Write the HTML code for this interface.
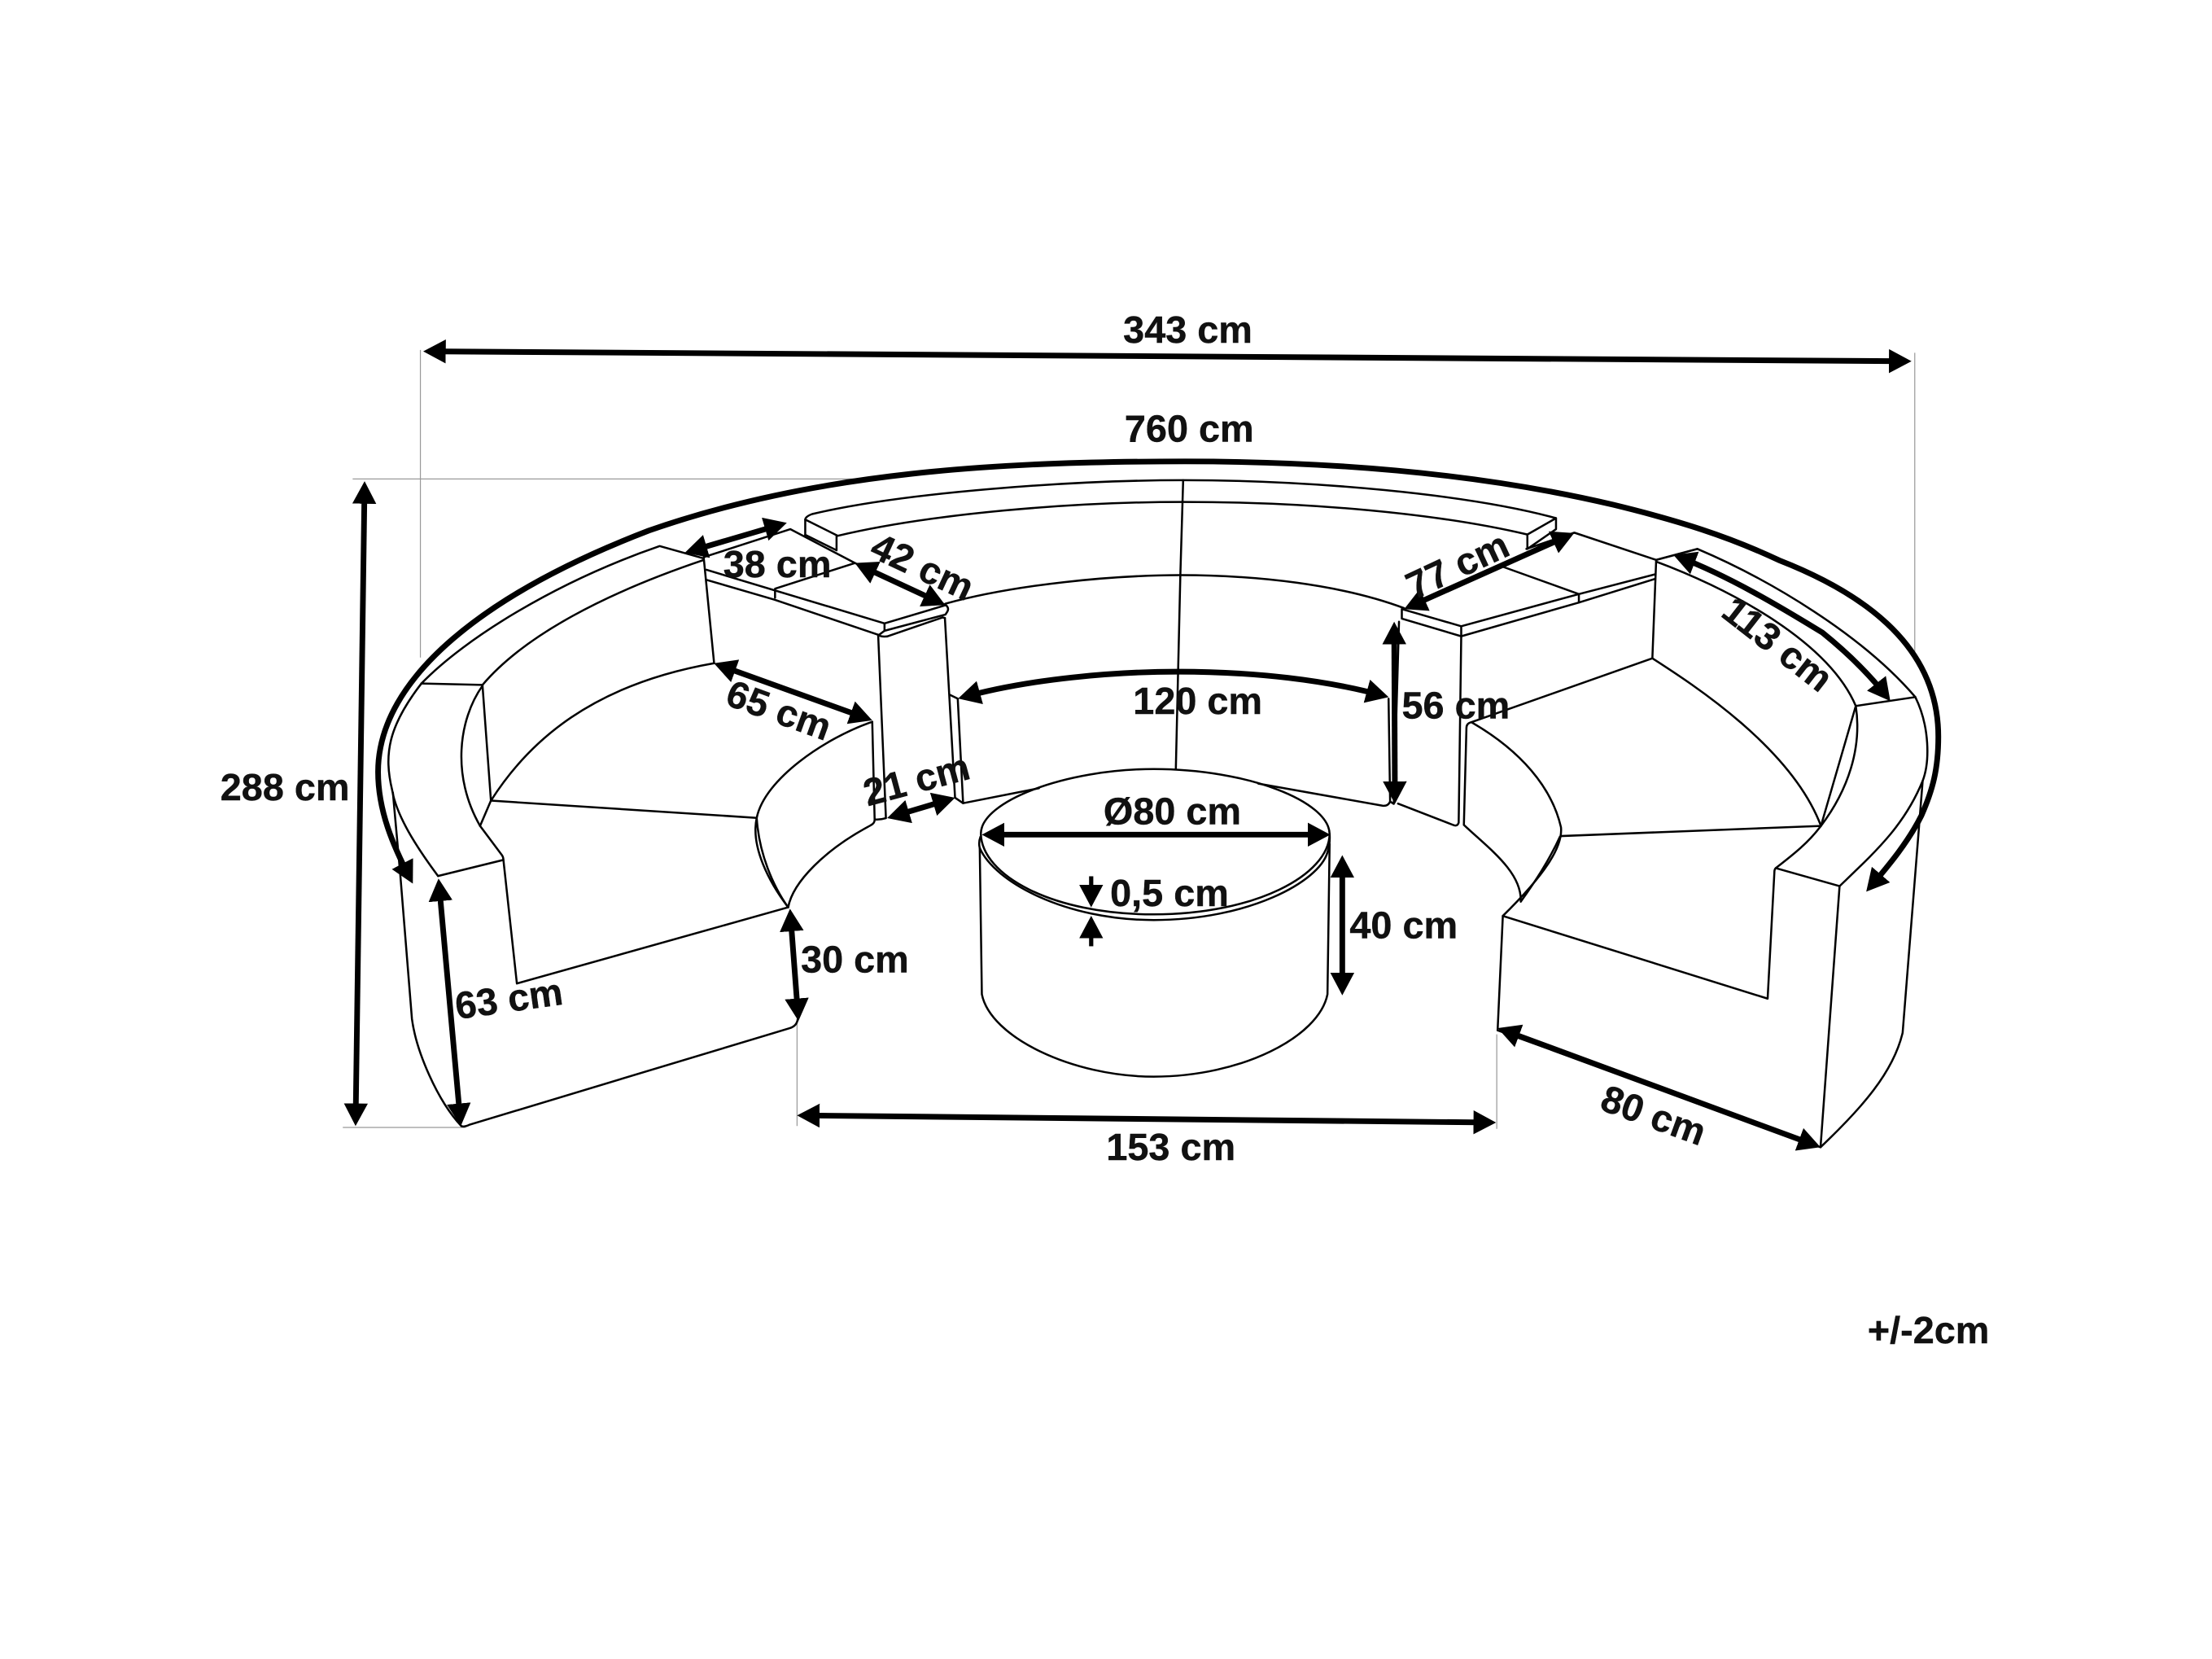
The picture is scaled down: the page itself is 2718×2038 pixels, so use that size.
<!DOCTYPE html>
<html><head><meta charset="utf-8"><style>
html,body{margin:0;padding:0;background:#fff}
svg{display:block}
text{font-family:"Liberation Sans",sans-serif;font-weight:700;font-size:27px;fill:#111;stroke:#111;stroke-width:.25;text-anchor:middle}
.o{fill:none;stroke:#000;stroke-width:1.45;stroke-linejoin:round;stroke-linecap:round}
.g{fill:none;stroke:#999;stroke-width:.7}
.a{fill:none;stroke:#000;stroke-width:4;marker-start:url(#h);marker-end:url(#h)}
.s{stroke-width:3;marker-start:none;marker-end:url(#h)}
</style></head><body>
<svg width="2718" height="2038" viewBox="0 0 1568 1175.7" xmlns="http://www.w3.org/2000/svg">
<defs><marker id="h" markerUnits="userSpaceOnUse" markerWidth="17" markerHeight="17" refX="12" refY="8.5" orient="auto-start-reverse" viewBox="0 0 17 17"><path d="M0 0L16 8.5L0 17z" fill="#000"/></marker></defs>

<path class="g" d="M298 248V466M250 339.4H618M1357.3 250V467M243 799H330M565 725V798M1061 733V800"/>

<!-- left section -->
<path class="o" d="M310.5 620.8C295 600 281 578 278 560C272 535 275 515 298.7 484.4C330 452 395 412 467.6 387L499 395.8"/>
<path class="o" d="M298.7 484.4L342 485.4C372 450 430 420 499 396.8L506.2 470"/>
<path class="o" d="M348 567.4C375 525 420 485 506.2 470"/>
<path class="o" d="M342 485.4L348 567.4L536.4 579.6"/>
<path class="o" d="M342 486C325 510 320 550 340.3 585.3L355.8 606Q356.8 607.5 356.8 609L366.4 697L558.7 643"/>
<path class="o" d="M340.3 585.3L348 567.4"/>
<path class="o" d="M310.5 620.8L356.8 609.4"/>
<path class="o" d="M278.5 561.6L283.7 619.3L292 722C295 745 310 780 327 798Q329 799 333 797L560 728.6Q565 727 565.5 722"/>
<path class="o" d="M618.3 511.5C585 523 542 552 536.4 579.6C532 600 545 625 558.7 643"/>
<path class="o" d="M536.4 579.6C538 605 548 628 558.7 643C562 625 585 602 617 585Q620 583.5 620 581L618.3 511.5"/>

<!-- left end table -->
<path class="o" d="M499 394.8L560.2 375L606 399L670.5 428.8L627 441.8L500.8 403.8"/>
<path class="o" d="M606 399L549.4 417.2V423.6"/>
<path class="o" d="M627 441.8V447L623 450L549 425L501 411"/>
<path class="o" d="M670.5 428.8Q673 431 671.5 433.5L670.2 435.5L627 447M628.9 451L668.3 437.5L669.8 438M622.5 450Q625 451.5 628.9 451"/>
<path class="o" d="M622.5 450L628 579.8Q624 581 620.2 580.7"/>
<path class="o" d="M669.8 438L677 565.3L682.7 569.2L678.9 495.1L673.1 492.3"/>
<path class="o" d="M682.7 569.2L736.5 558.6"/>
<path class="o" d="M670.2 427.8C720 414 790 407.6 836.7 407.6C890 407.6 950 414 995.3 431"/>

<!-- upper cushion -->
<path class="o" d="M570.8 379V368.2Q571 366 575.7 364.3C640 349 760 340.3 838.7 340.3C930 340.3 1040 350 1103 367.2V375L1082.7 389V378.8L1103 367.2"/>
<path class="o" d="M570.8 368.2L593.9 379.7C660 364 760 355.7 838.7 355.7C930 355.7 1020 364 1082.7 378.8"/>
<path class="o" d="M570.8 379L593 390V379.7"/>
<path class="o" d="M838.7 340.3L836.7 407.6L833.5 545"/>

<!-- right end table -->
<path class="o" d="M1082 389L1116 377.5L1174 396.8L1203.2 389"/>
<path class="o" d="M1065.7 401.8L1119.2 421L1035.8 443.8L993.7 431.6V438.4L1035.8 450.9L1119.2 427L1173.3 410.2"/>
<path class="o" d="M1119.2 421L1173.3 407M1119.2 421V427"/>
<path class="o" d="M1035.8 443.8V450.9L1034 583Q1033 586 1030 584.6L991 569.5"/>
<path class="o" d="M991.7 440.6L988 569.7L985.4 568L984.3 495.2M985.4 568Q984 571.5 980 571L892 555.3"/>

<!-- right section -->
<path class="o" d="M1174 396.8L1171.3 466.5L1043 511.8Q1039.5 512.5 1039.5 516L1037.7 584"/>
<path class="o" d="M1043 511.8C1078 532 1100 558 1106.5 586.2C1108 600 1095 620 1065.3 649.1L1061.6 730.2"/>
<path class="o" d="M1105.8 592.9C1098 610 1088 625 1078 639C1079 618 1055 601 1037.7 584.6"/>
<path class="o" d="M1106.4 592.5L1290.8 585.3L1315.5 500.3L1357.7 494"/>
<path class="o" d="M1171.3 466.5C1200 485 1270 530 1290.8 585.3"/>
<path class="o" d="M1174 398C1220 415 1295 452 1315.5 500.3"/>
<path class="o" d="M1174 396.8L1203.2 389C1255 411 1320 450 1357.7 494C1368 515 1368 540 1362.9 553.4C1350 585 1330 603 1304 628L1258.8 615.2"/>
<path class="o" d="M1315.5 500.3C1320 530 1310 560 1290.8 585.3C1282 597 1272 605 1258.8 615.2Q1257.8 616 1257.8 618L1253 707.7L1065.3 649.1"/>
<path class="o" d="M1304 628L1290.5 813C1320 785 1342 760 1348.7 731.9L1362.9 553.4"/>
<path class="o" d="M1061.6 730.2L1290.5 813"/>

<!-- table -->
<path class="o" d="M695.3 591C695 568 755 545 817.8 545C885 545 942 568 942.5 591C942 620 890 648 817.8 648C745 648 696 620 695.3 591Z"/>
<path class="o" d="M695 593Q693.5 597 694.5 601C705 625 755 652 817.8 652C885 652 935 625 941 604Q943 598 942.5 591"/>
<path class="o" d="M694.5 601L696 704.6C702 735 760 763 817.8 763C880 763 935 735 941 704.6L942.5 598"/>

<!-- arrows -->
<path class="a" d="M304 249L1351 256"/>
<path class="a" d="M258.4 345L252.1 794"/>
<path class="a" d="M290.8 622.7C279 600 268 575 268 547C268 480 345 420 460 376C580 334 710 327 840 327C960 327 1060 338 1143.5 357.7C1190 369 1225 380 1261 397C1325 422 1374 460 1374 522C1374 545 1370 560 1362 578C1353 596 1340 612 1325.5 628.9"/>
<path class="a" d="M569 790.5L1056.5 795.5"/>
<path class="a" d="M683 494C730 481 790 476 835 476C890 476 940 482 980.5 493"/>
<path class="a" d="M1190 394.7C1225 408 1262 430 1291.8 448.3C1310 463 1326 479 1337.5 493.7"/>
<path class="a" d="M999 430L1112.2 379.4"/>
<path class="a" d="M489.3 390.6L553.9 371.6"/>
<path class="a" d="M609.6 400.7L666.4 427.1"/>
<path class="a" d="M509.8 471.4L614.5 509.1"/>
<path class="a" d="M632.7 578.6L673.2 566.5"/>
<path class="a" d="M988.3 444.6L988.8 565.7"/>
<path class="a" d="M311.2 626.6L326.3 794"/>
<path class="a" d="M560.3 648L565.7 719.6"/>
<path class="a" d="M1065.4 730L1286.7 811.6"/>
<path class="a" d="M700 591.5H939"/>
<path class="a" d="M951.5 610V701.4"/>
<path class="a s" d="M773.5 621V639"/>
<path class="a s" d="M773.5 670.6V653"/>

<!-- labels -->
<text x="842" y="243">343 cm</text>
<text x="843" y="313">760 cm</text>
<text x="202" y="567">288 cm</text>
<text x="551" y="409">38 cm</text>
<text transform="translate(650 410) rotate(25)">42 cm</text>
<text transform="translate(1037 409) rotate(-25)">77 cm</text>
<text transform="translate(1254.4 463.7) rotate(38)">113 cm</text>
<text transform="translate(549 512) rotate(20)">65 cm</text>
<text x="849" y="506">120 cm</text>
<text x="1032" y="509">56 cm</text>
<text transform="translate(652 561.5) rotate(-15)">21 cm</text>
<text x="831" y="584">Ø80 cm</text>
<text x="829" y="642">0,5 cm</text>
<text x="995" y="665">40 cm</text>
<text x="606" y="689">30 cm</text>
<text transform="translate(362 717) rotate(-8)">63 cm</text>
<text x="830" y="822">153 cm</text>
<text transform="translate(1169 799) rotate(20)">80 cm</text>
<text x="1367" y="952">+/-2cm</text>
</svg>
</body></html>
